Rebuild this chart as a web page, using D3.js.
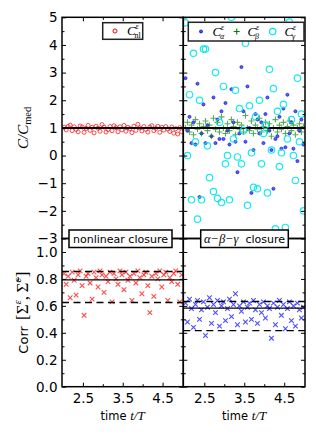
<!DOCTYPE html>
<html>
<head>
<meta charset="utf-8">
<script src="https://cdn.jsdelivr.net/npm/d3@7"></script>
<style>
body { margin: 0; background: #fff; }
svg { display: block; }
</style>
</head>
<body>
<svg width="316" height="435"></svg>
<script>
/**Data**/
var times = [2.03,2.08,2.13,2.18,2.23,2.28,2.33,2.38,2.43,2.48,2.53,2.58,2.63,2.68,2.73,2.78,2.83,2.88,2.93,2.98,
	3.03,3.08,3.13,3.18,3.23,3.28,3.33,3.38,3.43,3.48,3.53,3.58,3.63,3.68,3.73,3.78,3.83,3.88,3.93,3.98,
	4.03,4.08,4.13,4.18,4.23,4.28,4.33,4.38,4.43,4.48,4.53,4.58,4.63,4.68,4.73,4.78,4.83,4.88,4.93,4.98];

//C/C_med, nonlinear closure
var cNl = [1.02,0.93,1.05,1.10,0.90,1.04,0.95,0.86,1.07,1.03,0.84,0.98,1.09,0.91,1.02,0.82,1.06,0.99,0.88,1.12,
	1.03,0.85,0.94,1.05,0.90,1.08,1.01,0.86,1.04,0.93,1.09,0.88,1.02,0.97,0.83,1.06,0.91,1.13,1.00,0.89,
	1.05,0.95,0.85,1.03,1.08,0.90,0.98,1.06,0.84,1.02,0.92,1.05,0.96,0.87,1.03,0.81,0.97,0.78,1.01,0.86];

//C/C_med, alpha-beta-gamma closure
var cAlpha = [2.8,0.9,1.4,0.45,1.2,0.4,2.6,-1.5,0.8,1.85,0.45,1.1,-2.8,0.7,2.1,0.45,1.3,0.6,1.6,0.6,
	1.9,0.9,0.4,2.4,1.2,0.5,-0.6,0.8,3.2,1.6,0.5,2.5,1.0,-1.35,0.2,1.5,1.3,0.8,1.2,0.45,
	1.5,2.1,0.9,0.2,-1.2,0.6,0.7,1.4,0.25,1.7,0.3,2.2,0.8,1.2,0.25,1.6,-0.2,0.9,1.3,0.4];
var cBeta = [1.0,1.2,0.85,1.1,0.75,1.3,0.95,1.15,0.8,1.05,1.25,0.9,1.1,0.7,1.35,0.95,1.2,0.85,1.4,1.0,
	0.8,1.15,0.9,1.3,1.05,0.75,1.2,0.95,1.1,0.85,1.45,1.0,0.9,1.25,0.8,1.1,0.95,1.35,0.85,1.05,
	1.2,0.9,1.15,0.7,1.0,1.3,0.85,1.1,0.95,1.2,0.8,1.05,1.25,0.9,1.1,0.75,1.0,1.15,0.85,1.05];
var cGamma = [4.8,0.0,2.2,-1.6,3.7,0.5,-2.3,2.0,-1.6,3.85,3.85,0.35,-0.8,5.1,-1.3,3.0,-1.55,1.2,-1.7,2.5,
	-0.3,0.0,-1.6,5.0,0.6,2.36,-0.05,1.7,-0.3,0.9,4.06,-1.8,1.8,0.1,-1.15,1.4,-1.2,2.0,-0.3,0.8,
	1.1,-1.35,3.12,0.2,2.42,-2.65,1.6,-0.4,0.1,1.85,-2.6,0.6,4.83,1.3,0.0,-0.9,2.8,0.5,1.5,-2.0];

//Corr[Sigma, Sigma~]
var corrNl = [0.84,0.76,0.82,0.66,0.85,0.79,0.68,0.83,0.86,0.75,0.53,0.82,0.84,0.77,0.65,0.85,0.81,0.74,0.86,0.83,
	0.70,0.82,0.78,0.85,0.63,0.84,0.80,0.76,0.86,0.83,0.72,0.85,0.79,0.82,0.64,0.84,0.77,0.86,0.81,0.69,
	0.83,0.85,0.75,0.55,0.82,0.67,0.84,0.80,0.86,0.74,0.83,0.85,0.64,0.81,0.78,0.84,0.86,0.76,0.63,0.83];
var corrAbg = [0.62,0.48,0.65,0.58,0.44,0.61,0.64,0.50,0.57,0.63,0.38,0.59,0.66,0.47,0.61,0.55,0.64,0.45,0.60,0.63,
	0.49,0.58,0.65,0.52,0.61,0.69,0.46,0.60,0.56,0.63,0.48,0.59,0.62,0.50,0.64,0.57,0.47,0.61,0.55,0.63,
	0.51,0.60,0.58,0.36,0.62,0.46,0.59,0.64,0.53,0.61,0.43,0.58,0.63,0.49,0.60,0.45,0.62,0.57,0.51,0.59];

//reference lines: [lower dashed, solid, upper dashed]
var corrNlLines = [0.625, 0.793, 0.855];
var corrAbgLines = [0.416, 0.583, 0.632];
var ratioLine = 1;

var topTicks = [-3,-2,-1,0,1,2,3,4,5];
var topMinor = [-2.5,-1.5,-0.5,0.5,1.5,2.5,3.5,4.5];
var botTicks = [0,0.2,0.4,0.6,0.8,1.0];
var botMinor = [0.1,0.3,0.5,0.7,0.9];
var xTicks = [2.5,3.5,4.5];
var xMinor = [3.0,4.0];

/**Initialization**/
var svg = d3.select("svg");
var sans = "'DejaVu Sans', sans-serif";
var serif = "'Liberation Serif', 'DejaVu Serif', serif";

var xLeft = d3.scaleLinear().domain([1.975, 5.02]).range([62, 183.3]);
var xRight = d3.scaleLinear().domain([1.975, 5.02]).range([183.3, 305]);
var yTop = d3.scaleLinear().domain([-3, 5]).range([238.5, 17.3]);
var yBot = d3.scaleLinear().domain([0, 1.1]).range([386.7, 238.5]);

var panels = [
	{id: "tl", x: xLeft, y: yTop, yt: topTicks, ym: topMinor, labels: true},
	{id: "tr", x: xRight, y: yTop, yt: topTicks, ym: topMinor, labels: false},
	{id: "bl", x: xLeft, y: yBot, yt: botTicks, ym: botMinor, labels: true},
	{id: "br", x: xRight, y: yBot, yt: botTicks, ym: botMinor, labels: false}
];

var defs = svg.append("defs");
panels.forEach(function(p) {
	defs.append("clipPath").attr("id", "clip-" + p.id)
		.append("rect")
		.attr("x", p.x.range()[0]).attr("y", p.y.range()[1])
		.attr("width", p.x.range()[1] - p.x.range()[0])
		.attr("height", p.y.range()[0] - p.y.range()[1]);
});

//tick label formats
function topFormat(d) { return d < 0 ? "\u2212" + (-d) : "" + d; }
var oneDec = d3.format(".1f");

//Draw the ticks of a panel (all inward)
function drawAxes(p) {
	var x0 = p.x.range()[0], x1 = p.x.range()[1];
	var y0 = p.y.range()[1], y1 = p.y.range()[0];
	var bottomRow = p.id[0] == "b";
	var list = [
		//axis, dx, dy, label format
		[d3.axisLeft(p.y).tickValues(p.yt).tickSize(-4), x0, 0, p.labels ? (bottomRow ? oneDec : topFormat) : null],
		[d3.axisLeft(p.y).tickValues(p.ym).tickSize(-2.5), x0, 0, null],
		[d3.axisRight(p.y).tickValues(p.yt).tickSize(-4), x1, 0, null],
		[d3.axisRight(p.y).tickValues(p.ym).tickSize(-2.5), x1, 0, null],
		[d3.axisBottom(p.x).tickValues(xTicks).tickSize(-4), 0, y1, bottomRow ? oneDec : null],
		[d3.axisBottom(p.x).tickValues(xMinor).tickSize(-2.5), 0, y1, null],
		[d3.axisTop(p.x).tickValues(xTicks).tickSize(-4), 0, y0, null],
		[d3.axisTop(p.x).tickValues(xMinor).tickSize(-2.5), 0, y0, null]
	];
	list.forEach(function(a) {
		var axis = a[0].tickSizeOuter(0);
		if (a[3]) {
			axis.tickFormat(a[3]).tickPadding(a[2] !== 0 ? 6.5 : 4.5);
		} else {
			axis.tickFormat("");
		}
		var g = svg.append("g")
			.attr("transform", "translate(" + a[1] + "," + a[2] + ")")
			.call(axis);
		g.select(".domain").remove();
		g.selectAll("line").attr("stroke", "#000").attr("stroke-width", 1);
		g.selectAll("text")
			.attr("fill", "#000")
			.style("font-family", sans)
			.style("font-size", "13.5px");
	});
}

//Marker shapes
function plusPath(cx, cy, s) {
	return "M" + (cx - s) + "," + cy + "H" + (cx + s) + "M" + cx + "," + (cy - s) + "V" + (cy + s);
}
function crossPath(cx, cy, s) {
	return "M" + (cx - s) + "," + (cy - s) + "L" + (cx + s) + "," + (cy + s) +
		"M" + (cx - s) + "," + (cy + s) + "L" + (cx + s) + "," + (cy - s);
}

function circles(p, values, r, stroke, fill, sw, op) {
	svg.append("g").attr("clip-path", "url(#clip-" + p.id + ")")
		.selectAll("circle")
		.data(values)
		.enter().append("circle")
		.attr("cx", function(d, i) { return p.x(times[i]); })
		.attr("cy", function(d) { return p.y(d); })
		.attr("r", r)
		.attr("fill", fill)
		.attr("stroke", stroke)
		.attr("stroke-width", sw)
		.attr("opacity", op);
}

function marks(p, values, shape, s, stroke, sw, op) {
	svg.append("g").attr("clip-path", "url(#clip-" + p.id + ")")
		.selectAll("path")
		.data(values)
		.enter().append("path")
		.attr("d", function(d, i) { return shape(p.x(times[i]), p.y(d), s); })
		.attr("fill", "none")
		.attr("stroke", stroke)
		.attr("stroke-width", sw)
		.attr("opacity", op);
}

function hLine(p, v, dashed, w) {
	svg.append("line")
		.attr("x1", p.x.range()[0]).attr("x2", p.x.range()[1])
		.attr("y1", p.y(v)).attr("y2", p.y(v))
		.attr("stroke", "#000")
		.attr("stroke-width", w)
		.attr("stroke-dasharray", dashed ? "7,4.5" : null);
}

/**Marks**/
//top left: nonlinear closure ratio
circles(panels[0], cNl, 2, "#ff0000", "none", 1, 0.7);
hLine(panels[0], ratioLine, false, 2);

//top right: alpha, beta, gamma
circles(panels[1], cAlpha, 1.5, "#0000dd", "#4d4dff", 0.8, 0.9);
marks(panels[1], cBeta, plusPath, 3, "#008000", 1.1, 0.65);
hLine(panels[1], ratioLine, false, 2);
circles(panels[1], cGamma, 3.2, "#00e8f0", "none", 1.2, 0.9);

//bottom: correlations
marks(panels[2], corrNl, crossPath, 2.3, "#ff0000", 1.1, 0.7);
hLine(panels[2], corrNlLines[0], true, 1.4);
hLine(panels[2], corrNlLines[1], false, 1.4);
hLine(panels[2], corrNlLines[2], true, 1.4);

marks(panels[3], corrAbg, crossPath, 2.3, "#0000ff", 1.1, 0.7);
hLine(panels[3], corrAbgLines[0], true, 1.4);
hLine(panels[3], corrAbgLines[1], false, 1.4);
hLine(panels[3], corrAbgLines[2], true, 1.4);

/**Axes and frames**/
panels.forEach(function(p) {
	drawAxes(p);
	svg.append("rect")
		.attr("x", p.x.range()[0]).attr("y", p.y.range()[1])
		.attr("width", p.x.range()[1] - p.x.range()[0])
		.attr("height", p.y.range()[0] - p.y.range()[1])
		.attr("fill", "none")
		.attr("stroke", "#000")
		.attr("stroke-width", 1.5);
});

//Math label like C^eps_sub (super- and subscript stacked)
function mathC(x, y, sub, subItalic) {
	var g = svg.append("g");
	g.append("text").attr("x", x).attr("y", y)
		.attr("font-family", serif).attr("font-style", "italic").attr("font-size", 13)
		.text("C");
	g.append("text").attr("x", x + 8.5).attr("y", y - 6)
		.attr("font-family", serif).attr("font-style", "italic").attr("font-size", 8)
		.text("\u03b5");
	g.append("text").attr("x", x + 7.5).attr("y", y + 3)
		.attr("font-family", serif).attr("font-style", subItalic ? "italic" : "normal").attr("font-size", 8)
		.text(sub);
}

/**Legends**/
svg.append("rect").attr("x", 102.7).attr("y", 22.7).attr("width", 40).attr("height", 16.6)
	.attr("fill", "#fff").attr("stroke", "#222").attr("stroke-width", 1.5);
svg.append("circle").attr("cx", 115).attr("cy", 31).attr("r", 2)
	.attr("fill", "none").attr("stroke", "#ff0000").attr("stroke-width", 1);
mathC(127, 35, "nl", false);

svg.append("rect").attr("x", 188.3).attr("y", 22.3).attr("width", 115.7).attr("height", 18.7)
	.attr("fill", "#fff").attr("stroke", "#222").attr("stroke-width", 1.5);
svg.append("circle").attr("cx", 201).attr("cy", 31.5).attr("r", 1.5)
	.attr("fill", "#4d4dff").attr("stroke", "#0000dd").attr("stroke-width", 0.8);
mathC(212.5, 35.5, "\u03b1", true);
svg.append("path").attr("d", plusPath(236.7, 31.5, 3)).attr("stroke", "#008000").attr("stroke-width", 1.1);
mathC(247.5, 35.5, "\u03b2", true);
svg.append("circle").attr("cx", 272.7).attr("cy", 31.5).attr("r", 3.2)
	.attr("fill", "none").attr("stroke", "#00e8f0").attr("stroke-width", 1.2);
mathC(284.5, 35.5, "\u03b3", true);

/**Closure labels**/
svg.append("rect").attr("x", 69).attr("y", 230).attr("width", 103).attr("height", 17.5)
	.attr("fill", "#fff").attr("stroke", "#000").attr("stroke-width", 1.5);
svg.append("text").attr("x", 120.5).attr("y", 242.8)
	.attr("text-anchor", "middle").attr("font-family", sans).attr("font-size", 11)
	.text("nonlinear closure");

svg.append("rect").attr("x", 200.7).attr("y", 230).attr("width", 87.6).attr("height", 17.5)
	.attr("fill", "#fff").attr("stroke", "#000").attr("stroke-width", 1.5);
var abg = svg.append("text").attr("x", 244.5).attr("y", 242.8)
	.attr("text-anchor", "middle").attr("font-size", 11).attr("xml:space", "preserve");
abg.append("tspan").attr("font-family", serif).attr("font-style", "italic").attr("font-size", 12.5)
	.text("\u03b1\u2212\u03b2\u2212\u03b3");
abg.append("tspan").attr("font-family", sans).text("  closure");

/**Axis labels**/
[xLeft, xRight].forEach(function(sc) {
	var t = svg.append("text")
		.attr("x", (sc.range()[0] + sc.range()[1]) / 2).attr("y", 420)
		.attr("text-anchor", "middle").attr("font-size", 11.5);
	t.append("tspan").attr("font-family", sans).text("time ");
	t.append("tspan").attr("font-family", serif).attr("font-style", "italic").attr("font-size", 13).text("t/T");
});

var yl1 = svg.append("text")
	.attr("transform", "translate(28," + (yTop.range()[0] + yTop.range()[1]) / 2 + ") rotate(-90)")
	.attr("text-anchor", "middle").attr("font-family", serif).attr("font-size", 15);
yl1.append("tspan").attr("font-style", "italic").text("C/C");
yl1.append("tspan").attr("font-size", 10.5).attr("dy", 3).text("med");

var yl2 = svg.append("text")
	.attr("transform", "translate(27.5," + (yBot.range()[0] + yBot.range()[1]) / 2 + ") rotate(-90)")
	.attr("text-anchor", "middle").attr("font-size", 13);
yl2.append("tspan").attr("font-family", sans).text("Corr ");
yl2.append("tspan").attr("font-family", serif).attr("font-size", 17).attr("dx", 2).text("[\u03a3");
yl2.append("tspan").attr("font-family", serif).attr("font-style", "italic").attr("font-size", 11).attr("dy", -7).text("\u03b5");
yl2.append("tspan").attr("font-family", serif).attr("font-size", 17).attr("dy", 7).text(",\u2009\u03a3\u0303");
yl2.append("tspan").attr("font-family", serif).attr("font-style", "italic").attr("font-size", 11).attr("dy", -7).text("\u03b5");
yl2.append("tspan").attr("font-family", serif).attr("font-size", 17).attr("dy", 7).attr("dx", 1).text("]");
</script>
</body>
</html>
